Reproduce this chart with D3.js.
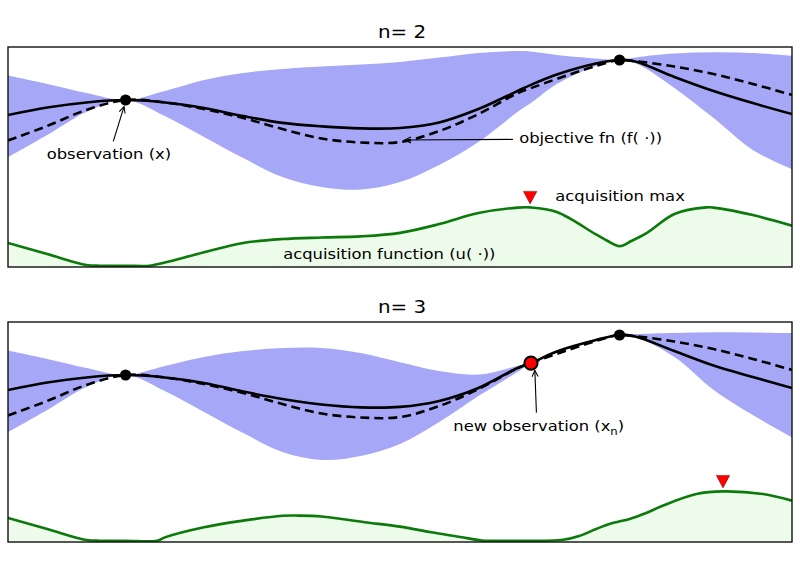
<!DOCTYPE html>
<html><head><meta charset="utf-8">
<script src="https://cdn.jsdelivr.net/npm/d3@7"></script>
<style>html,body{margin:0;padding:0;background:#fff}</style>
</head><body>
<svg id="c" width="800" height="565"></svg>
<script>
// ---- data (x in [0,100], y in [0,100] per panel) ----
const xs = [0,5,10,15,20,25,30,35,40,45,50,55,60,65,66.7,70,75,78,80,85,90,95,100];
const objective = [57.5,64.1,71.4,75.9,74.8,71.8,67.7,62.7,58.4,56.6,56.8,61.8,69.5,79.0,81.3,85.5,91.4,94.1,93.6,91.1,87.7,83.2,78.2];

const mean1  = [69.1,72.5,74.8,75.9,74.8,72.3,68.6,65.5,63.9,63.0,63.2,65.7,71.8,80.0,82.8,87.5,92.5,94.1,93.4,86.4,80.0,74.5,69.5];
const upper1 = [87.0,83.2,79.1,75.9,80.0,85.0,88.2,90.0,91.1,92.0,93.2,95.2,97.3,98.2,98.0,96.4,94.8,94.1,95.2,97.0,97.6,97.3,96.0];
const lower1 = [49.9,60.0,70.5,75.9,68.6,59.1,49.5,40.9,36.4,35.2,38.6,46.4,56.8,70.5,74.5,83.2,91.4,94.1,92.7,81.4,67.7,53.2,44.5];

const mean2  = [69.1,72.5,74.8,75.9,74.8,72.3,68.4,65.0,62.5,61.2,61.4,64.1,70.0,79.1,81.3,86.6,91.8,94.1,93.4,86.8,80.2,75.0,70.0];
const upper2 = [87.0,83.2,79.1,75.9,80.0,84.1,86.8,88.2,88.2,85.9,81.7,77.7,76.1,80.0,81.3,87.0,92.3,94.1,94.5,95.0,95.3,95.2,95.0];
const lower2 = [49.9,60.0,70.5,75.9,68.6,59.1,49.5,40.9,37.3,39.1,44.5,54.5,66.4,77.3,81.3,86.1,91.4,94.1,93.2,84.1,69.1,57.7,47.6];

const acqX1 = [0,5,10,11.7,15,18.1,20,25,30,35,40,45,50,55,60,65,66.6,70,75,76.5,78,79.5,81.5,85,89.1,90,95,100];
const acq1  = [10.9,5.9,0.9,0.6,0.6,0.6,2.0,6.7,10.9,12.7,13.4,13.9,15.5,19.5,24.5,27.0,27.1,25.0,14.8,11.8,9.5,11.8,15.5,24.1,27.1,27.0,23.6,18.8];

const acqX2 = [0,5,10,11.7,15,19,20,25,30,35,37,40,45.5,50,54,57.7,60.4,62.8,70.8,73,75,77.1,79.3,81.4,83.5,87.8,91.2,96.3,100];
const acq2  = [10.9,5.9,0.9,0.6,0.6,0.6,2.1,6.7,9.7,11.9,12.0,11.6,9.0,7.0,4.4,2.3,0.7,0.6,1.0,2.9,5.9,8.6,10.5,13.2,16.5,21.8,23.0,21.8,18.8];

const obsX = [15, 78];
const obsY = [75.9, 94.1];
const newObsX = [66.7];
const newObsY = [81.3];
const acqMax1 = [66.6, 27.1];
const acqMax2 = [91.2, 23.0];

const titles = ["n= 2", "n= 3"];

// ---- drawing ----
const svg = d3.select("#c");
const x = d3.scaleLinear().domain([0,100]).range([8,792]);
const SX = 1.17; // horizontal stretch of the text in the reference

const panels = [
  {title:titles[0], top:47, bottom:267, mean:mean1, upper:upper1, lower:lower1, acqX:acqX1, acq:acq1, newObs:false, max:acqMax1,
   ann:[
     {text:"observation (x)", tx:4.94, ty:49.1, from:[13.43,57.1], to:[14.8,72.9]},
     {text:"objective fn (f( \u00b7))", tx:65.2, ty:56.2, from:[64.4,58.0], to:[50.6,57.7]},
     {text:"acquisition max", tx:69.8, ty:30.0},
     {text:"acquisition function (u( \u00b7))", tx:35.1, ty:3.6}
   ]},
  {title:titles[1], top:322, bottom:542, mean:mean2, upper:upper2, lower:lower2, acqX:acqX2, acq:acq2, newObs:true, max:acqMax2,
   ann:[
     {text:"new observation (x", sub:"n", tail:")", tx:56.8, ty:50.5, from:[67.4,58.8], to:[67.2,78.0]}
   ]}
];

panels.forEach((p, i) => {
  const y = d3.scaleLinear().domain([0,100]).range([p.bottom, p.top]);
  const g = svg.append("g");
  const cid = "clip" + i;
  svg.append("defs").append("clipPath").attr("id", cid)
    .append("rect").attr("x", x(0)).attr("y", p.top).attr("width", x(100)-x(0)).attr("height", p.bottom-p.top);
  const plot = g.append("g").attr("clip-path", `url(#${cid})`);

  const curve = d3.curveCatmullRom.alpha(0.5);
  // uncertainty band
  plot.append("path")
    .datum(xs.map((v,k)=>[v,p.lower[k],p.upper[k]]))
    .attr("d", d3.area().x(d=>x(d[0])).y0(d=>y(d[1])).y1(d=>y(d[2])).curve(curve))
    .attr("fill", "#a7a7f8").attr("stroke", "none");
  // acquisition
  const acqD = p.acqX.map((v,k)=>[v,p.acq[k]]);
  plot.append("path").datum(acqD)
    .attr("d", d3.area().x(d=>x(d[0])).y0(y(-5)).y1(d=>y(d[1])).curve(curve))
    .attr("fill", "#ecfbea");
  plot.append("path").datum(acqD)
    .attr("d", d3.line().x(d=>x(d[0])).y(d=>y(d[1])).curve(curve))
    .attr("fill", "none").attr("stroke", "#0b7a0b").attr("stroke-width", 2.6);
  // objective (dashed)
  plot.append("path").datum(xs.map((v,k)=>[v,objective[k]]))
    .attr("d", d3.line().x(d=>x(d[0])).y(d=>y(d[1])).curve(curve))
    .attr("fill", "none").attr("stroke", "#000").attr("stroke-width", 2.6)
    .attr("stroke-dasharray", "9,5");
  // mean (solid)
  plot.append("path").datum(xs.map((v,k)=>[v,p.mean[k]]))
    .attr("d", d3.line().x(d=>x(d[0])).y(d=>y(d[1])).curve(curve))
    .attr("fill", "none").attr("stroke", "#000").attr("stroke-width", 2.6);

  // observations
  g.selectAll(".obs" + i).data(obsX.map((v,k)=>[v,obsY[k]])).enter().append("circle")
    .attr("cx", d=>x(d[0])).attr("cy", d=>y(d[1])).attr("r", 5.6).attr("fill", "#000");
  if (p.newObs) {
    g.selectAll(".nobs").data(newObsX.map((v,k)=>[v,newObsY[k]])).enter().append("circle")
      .attr("cx", d=>x(d[0])).attr("cy", d=>y(d[1])).attr("r", 6.6)
      .attr("fill", "#ff0000").attr("stroke", "#000").attr("stroke-width", 2);
  }

  // acquisition max marker
  const mx = x(p.max[0]), tip = y(p.max[1]) - 3.5;
  g.append("path")
    .attr("d", `M${mx},${tip}L${mx-6.7},${tip-12.5}L${mx+6.7},${tip-12.5}Z`)
    .attr("fill", "#ff0000").attr("stroke", "#7a1a1a").attr("stroke-width", 0.6);

  // frame
  g.append("rect").attr("x", x(0)).attr("y", p.top).attr("width", x(100)-x(0)).attr("height", p.bottom-p.top)
    .attr("fill", "none").attr("stroke", "#111").attr("stroke-width", 1.4);

  // title
  g.append("text")
    .attr("transform", `translate(${(x(0)+x(100))/2 + 2},${p.top - 9.5}) scale(${SX},1)`)
    .attr("text-anchor", "middle").attr("font-family", "DejaVu Sans").attr("font-size", 17)
    .attr("fill", "#000").text(p.title);

  // annotations
  p.ann.forEach(a => {
    const t = g.append("text")
      .attr("transform", `translate(${x(a.tx)},${y(a.ty)}) scale(${SX},1)`)
      .attr("font-family", "DejaVu Sans").attr("font-size", 14).attr("fill", "#000");
    t.append("tspan").text(a.text);
    if (a.sub) {
      t.append("tspan").attr("font-size", 10).attr("dy", 4).text(a.sub);
      t.append("tspan").attr("dy", -4).text(a.tail);
    }
    if (a.from) {
      const x1 = x(a.from[0]), y1 = y(a.from[1]), x2 = x(a.to[0]), y2 = y(a.to[1]);
      g.append("line").attr("x1", x1).attr("y1", y1).attr("x2", x2).attr("y2", y2)
        .attr("stroke", "#000").attr("stroke-width", 1.1);
      const ang = Math.atan2(y1 - y2, x1 - x2), L = 7, h = 0.45;
      g.append("path")
        .attr("d", `M${x2 + L*Math.cos(ang+h)},${y2 + L*Math.sin(ang+h)}L${x2},${y2}L${x2 + L*Math.cos(ang-h)},${y2 + L*Math.sin(ang-h)}`)
        .attr("fill", "none").attr("stroke", "#000").attr("stroke-width", 1.1);
    }
  });
});
</script>
</body></html>
